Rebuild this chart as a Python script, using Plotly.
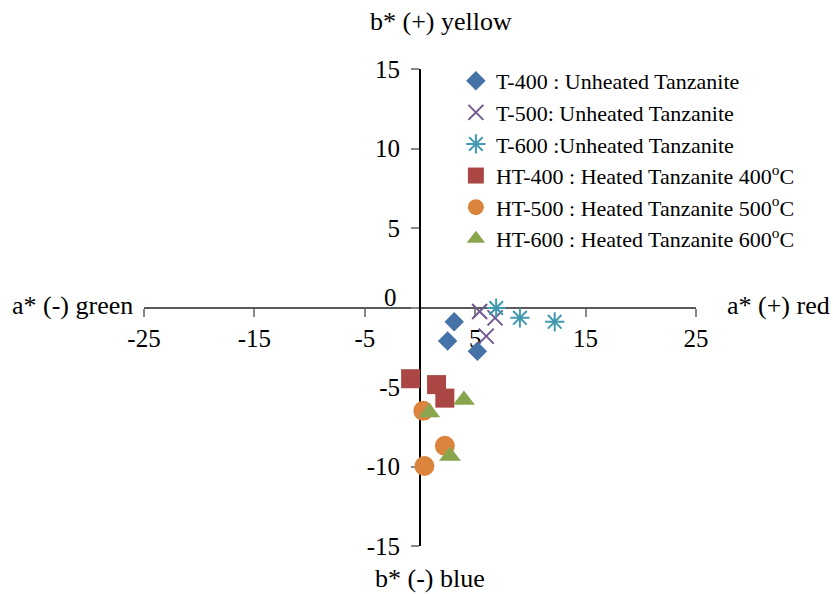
import plotly.graph_objects as go

# CIELAB a*/b* coordinates of tanzanite samples
t400_a = [3.1, 2.5, 5.2]
t400_b = [-0.9, -2.1, -2.75]

t500_a = [5.4, 6.8, 6.0]
t500_b = [-0.25, -0.65, -1.8]

t600_a = [6.9, 9.05, 12.2]
t600_b = [-0.03, -0.65, -0.9]

ht400_a = [-0.85, 1.5, 2.25]
ht400_b = [-4.48, -4.85, -5.7]

ht500_a = [0.3, 2.25, 0.4]
ht500_b = [-6.5, -8.7, -9.97]

ht600_a = [3.98, 0.84, 2.71]
ht600_b = [-5.82, -6.6, -9.34]

x_ticks = [-25, -15, -5, 5, 15, 25]
y_ticks = [-15, -10, -5, 0, 5, 10, 15]
y_tick_text = ["-15", "-10", "-5", "", "5", "10", "15"]

FONT = "Times New Roman, Liberation Serif, serif"

# plot area in pixels (left, right, top, bottom)
L, R, T, B = 144, 696, 69, 546

series = [
    ("T-400 : Unheated Tanzanite", t400_a, t400_b,
     dict(symbol="diamond", size=15, color="#4572A7")),
    ("T-500: Unheated Tanzanite", t500_a, t500_b,
     dict(symbol="x-thin-open", size=15, color="#71588F",
          line=dict(color="#71588F", width=2))),
    ("T-600 :Unheated Tanzanite", t600_a, t600_b,
     dict(symbol="asterisk-open", size=16, color="#4198AF",
          line=dict(color="#4198AF", width=2))),
    ("HT-400 : Heated Tanzanite 400<sup>o</sup>C", ht400_a, ht400_b,
     dict(symbol="square", size=19, color="#AA4643")),
    ("HT-500 : Heated Tanzanite 500<sup>o</sup>C", ht500_a, ht500_b,
     dict(symbol="circle", size=20, color="#DB843D")),
    ("HT-600 : Heated Tanzanite 600<sup>o</sup>C", ht600_a, ht600_b,
     dict(symbol="triangle-up", size=19, color="#89A54E")),
]

fig = go.Figure()
for i, (name, xs, ys, marker) in enumerate(series):
    fig.add_trace(go.Scatter(
        x=xs, y=ys, mode="markers", name=name, marker=marker,
        legendgroup=f"g{i}",
    ))

fig.update_layout(
    width=833, height=594,
    margin=dict(l=L, r=833 - R, t=T, b=594 - B),
    paper_bgcolor="white", plot_bgcolor="white",
    font=dict(family=FONT, size=25, color="#000000"),
    showlegend=True,
    legend=dict(
        x=0.565, y=1.019, xanchor="left", yanchor="top",
        font=dict(family=FONT, size=22, color="#000000"),
        bgcolor="rgba(0,0,0,0)", traceorder="grouped", tracegroupgap=0,
    ),
    xaxis=dict(
        range=[-25, 25], tickvals=x_ticks, ticktext=[str(v) for v in x_ticks],
        anchor="free", position=0.5, showline=True, linecolor="#595959",
        linewidth=2, ticks="outside", ticklen=8, tickwidth=2, tickcolor="#888888",
        showgrid=False, zeroline=False, layer="below traces",
        tickfont=dict(family=FONT, size=25),
    ),
    yaxis=dict(
        range=[-15, 15], tickvals=y_ticks, ticktext=y_tick_text,
        anchor="free", position=0.5, showline=True, linecolor="#000000",
        linewidth=2, ticks="outside", ticklen=8, tickwidth=2, tickcolor="#888888",
        showgrid=False, zeroline=False, layer="below traces",
        ticklabelstandoff=6,
        tickfont=dict(family=FONT, size=25),
    ),
)

# zero label of the b* axis sits above the a* axis line
fig.add_annotation(x=0, y=0, xref="x", yref="y", text="0", showarrow=False,
                   xanchor="right", yanchor="bottom", xshift=-21, yshift=-5,
                   font=dict(family=FONT, size=25))

# axis captions at the four ends of the cross
captions = [
    ("b* (+) yellow", 441, 22),
    ("b* (-) blue", 430, 578),
    ("a* (-) green", 72, 305),
    ("a* (+) red", 779, 305),
]
for text, px, py in captions:
    fig.add_annotation(x=(px - L) / (R - L), y=(B - py) / (B - T),
                       xref="paper", yref="paper",
                       text=text, showarrow=False, xanchor="center", yanchor="middle",
                       font=dict(family=FONT, size=26))

fig.write_html("out.html")
